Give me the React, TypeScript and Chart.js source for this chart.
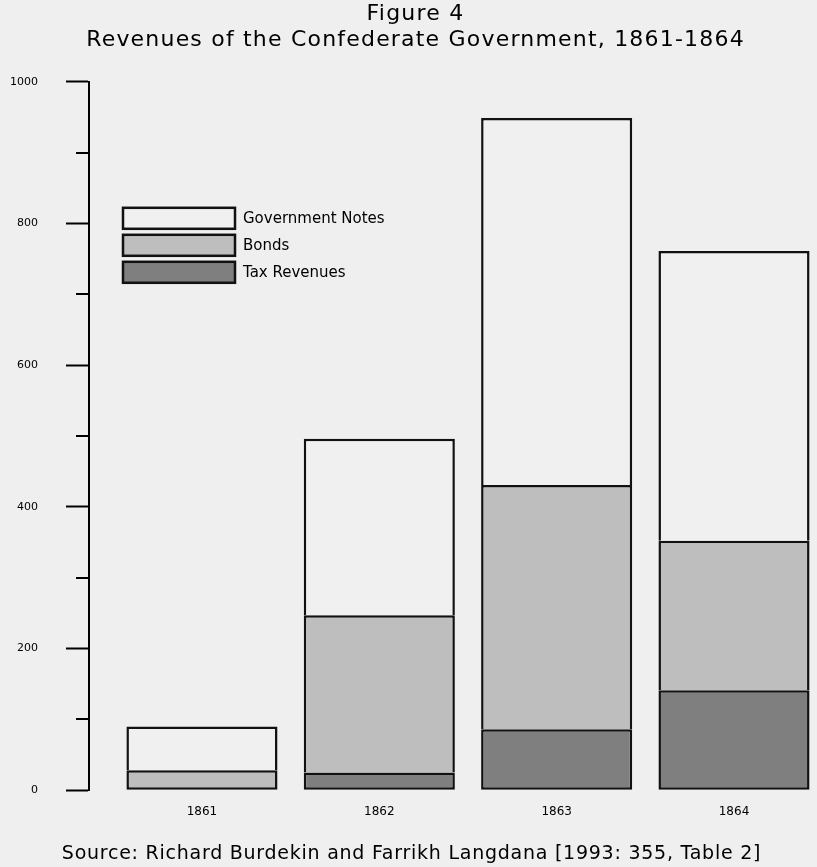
import React, { useEffect, useRef } from 'react';
import { Chart, registerables } from 'chart.js';

Chart.register(...registerables);

const years = ['1861', '1862', '1863', '1864'];
const taxRevenues = [0, 25, 86, 141];
const bonds = [28, 222, 345, 211];
const governmentNotes = [62, 249, 518, 409];
const seriesLabels = ['Tax Revenues', 'Bonds', 'Government Notes'];
const titleLines = ['Figure 4', 'Revenues of the Confederate Government, 1861-1864'];
const sourceText = 'Source: Richard Burdekin and Farrikh Langdana [1993: 355, Table 2]';

const BG = '#efefef';
const FONT = 'DejaVu Sans';
const seriesColors = ['#7f7f7f', '#bebebe', '#f0f0f0'];
const EDGE = '#111';
const BW = 2.5;

export default function App() {
  const ref = useRef<HTMLCanvasElement | null>(null);

  useEffect(() => {
    document.body.style.margin = '0';
    document.body.style.background = BG;
    const canvas = ref.current;
    if (!canvas) return;

    const series = [taxRevenues, bonds, governmentNotes];

    const bgPlugin = {
      id: 'bg',
      beforeDraw(chart: any) {
        const { ctx, width, height } = chart;
        ctx.save();
        ctx.fillStyle = BG;
        ctx.fillRect(0, 0, width, height);
        ctx.restore();
      },
    };

    const minorTicks = {
      id: 'minorTicks',
      afterDraw(chart: any) {
        const { ctx, chartArea } = chart;
        const y = chart.scales.y;
        ctx.save();
        ctx.strokeStyle = '#000';
        ctx.lineWidth = 2;
        for (let v = 100; v < 1000; v += 200) {
          const py = Math.round(y.getPixelForValue(v));
          ctx.beginPath();
          ctx.moveTo(chartArea.left - 13, py);
          ctx.lineTo(chartArea.left, py);
          ctx.stroke();
        }
        ctx.restore();
      },
    };

    const innerLegend = {
      id: 'innerLegend',
      afterDraw(chart: any) {
        const { ctx, chartArea } = chart;
        const ds = chart.data.datasets.slice().reverse();
        ctx.save();
        ctx.font = `15px "${FONT}"`;
        ctx.textBaseline = 'middle';
        ds.forEach((d: any, i: number) => {
          const x = chartArea.left + 34;
          const yy = chartArea.top + 126 + i * 27;
          ctx.fillStyle = d.backgroundColor;
          ctx.fillRect(x, yy, 112, 21);
          ctx.strokeStyle = EDGE;
          ctx.lineWidth = BW;
          ctx.strokeRect(x, yy, 112, 21);
          ctx.fillStyle = '#000';
          ctx.fillText(d.label, x + 120, yy + 11);
        });
        ctx.restore();
      },
    };

    const chart = new Chart(canvas, {
      type: 'bar',
      data: {
        datasets: series.map((arr, k) => ({
          label: seriesLabels[k],
          data: arr.map((v, i) => ({ x: i, y: v })),
          backgroundColor: seriesColors[k],
          borderColor: EDGE,
          borderWidth: (c: any) => {
            const i = c.dataIndex;
            let below = 0;
            for (let j = 0; j < k; j++) below += series[j][i];
            return { top: BW, left: BW, right: BW, bottom: below === 0 ? BW : 0 };
          },
          borderSkipped: false,
          categoryPercentage: 1,
          barPercentage: 0.852,
        })),
      },
      options: {
        animation: false,
        responsive: false,
        devicePixelRatio: 1,
        layout: { padding: { left: 0, right: 0, top: 0, bottom: 0 } },
        plugins: {
          legend: { display: false },
          tooltip: { enabled: false },
          title: {
            display: true,
            text: titleLines,
            color: '#000',
            font: { family: FONT, size: 22, weight: 'normal', lineHeight: 1.2 },
            padding: { top: 1, bottom: 28 },
          },
          subtitle: {
            display: true,
            text: sourceText,
            position: 'bottom',
            color: '#000',
            font: { family: FONT, size: 19, weight: 'normal', lineHeight: 1.2 },
            padding: { top: 2, bottom: 2 },
          },
        },
        scales: {
          x: {
            type: 'linear',
            stacked: true,
            offset: false,
            min: -0.637,
            max: 3.468,
            afterBuildTicks(scale: any) {
              scale.ticks = years.map((_, i) => ({ value: i }));
            },
            afterFit(scale: any) {
              scale.height = 50;
            },
            ticks: {
              padding: 14,
              color: '#000',
              font: { family: FONT, size: 12 },
              callback: (v: any) => years[v] ?? '',
              maxRotation: 0,
              autoSkip: false,
            },
            grid: { display: false, drawTicks: false },
            border: { display: false },
          },
          y: {
            stacked: true,
            min: 0,
            max: 1000,
            afterFit(scale: any) {
              scale.width = 89;
            },
            ticks: {
              stepSize: 100,
              padding: 28,
              color: '#000',
              font: { family: FONT, size: 11 },
              callback: (v: any) => (v % 200 === 0 ? String(v) : ''),
              autoSkip: false,
            },
            grid: {
              drawOnChartArea: false,
              tickLength: 23,
              tickWidth: 2,
              tickColor: (c: any) => (c.tick && c.tick.value % 200 === 0 ? '#000' : 'rgba(0,0,0,0)'),
            },
            border: { display: true, color: '#000', width: 2 },
          },
        },
      },
      plugins: [bgPlugin, minorTicks, innerLegend],
    });

    // widen the title texts a little, as in the original figure
    const spacing = (box: any, sp: string, dx: number) => {
      const orig = box.draw;
      box.draw = function (...args: any[]) {
        const ctx = chart.ctx as any;
        ctx.save();
        ctx.letterSpacing = sp;
        ctx.translate(dx, 0);
        orig.apply(box, args);
        ctx.restore();
      };
    };
    (chart as any).boxes.forEach((b: any) => {
      if (b === (chart as any).titleBlock) spacing(b, '1.2px', 7);
      else if (b.options && b.options.text === sourceText) spacing(b, '0.75px', 3);
    });
    chart.draw();

    return () => chart.destroy();
  }, []);

  return <canvas ref={ref} width={817} height={867} style={{ display: 'block' }} />;
}
